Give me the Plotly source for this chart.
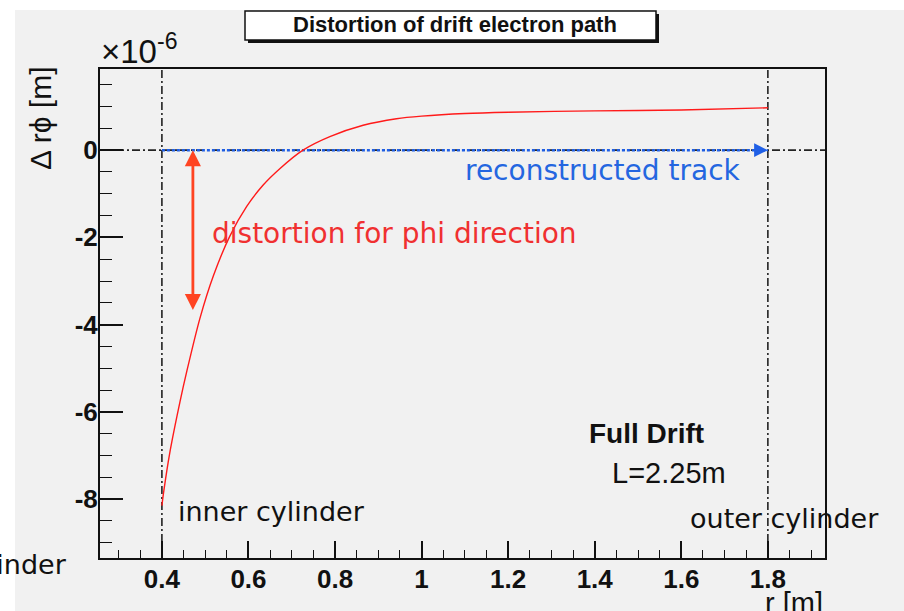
import plotly.graph_objects as go

# Azimuthal displacement of a drifting electron vs. radius (units of 1e-6 m)
r_m = [0.400, 0.4046, 0.418, 0.442, 0.458, 0.488, 0.519, 0.557, 0.596, 0.634,
       0.673, 0.726, 0.788, 0.865, 0.942, 1.00, 1.10, 1.20, 1.40, 1.60, 1.80]
d_rphi = [-8.15, -7.80, -6.95, -5.76, -5.05, -3.85, -2.88, -1.97, -1.29, -0.80,
          -0.42, 0.00, 0.31, 0.57, 0.72, 0.78, 0.84, 0.87, 0.90, 0.92, 0.97]

# Reconstructed (straight) track
track_r = [0.4, 1.8]
track_d = [0.0, 0.0]

# Chamber boundaries
inner_r = 0.4
outer_r = 1.8

# Size of the distortion indicated by the double arrow
arrow_r = 0.4716
arrow_span = [0.0, -3.7]

x_ticks = [0.4, 0.6, 0.8, 1.0, 1.2, 1.4, 1.6, 1.8]
x_ticklabels = ["0.4", "0.6", "0.8", "1", "1.2", "1.4", "1.6", "1.8"]
y_ticks = [0, -2, -4, -6, -8]
y_ticklabels = ["0", "-2", "-4", "-6", "-8"]

W, H = 904, 611
ML, MR, MT, MB = 100, 79, 69, 53
PW, PH = W - ML - MR, H - MT - MB

CANVAS = "#f1f1f1"
RED = "#ff1a1a"
ARROW_RED = "#ff4422"
BLUE = "#1f5fe6"
TEXT_RED = "#f03030"
TEXT_BLUE = "#2466e0"
SANS = "Liberation Sans, Arial, sans-serif"
WIDE = "DejaVu Sans, sans-serif"


def px_x(px):
    return (px - ML) / PW


def px_y(py):
    return (H - MB - py) / PH


fig = go.Figure()

# Reconstructed track (blue dashed) and the distortion curve
fig.add_trace(go.Scatter(x=track_r, y=track_d, mode="lines",
                         line=dict(color=BLUE, width=2.5, dash="3px,2px"),
                         hoverinfo="skip", showlegend=False))
fig.add_trace(go.Scatter(x=r_m, y=d_rphi, mode="lines",
                         line=dict(color=RED, width=1.4, shape="spline", smoothing=0.8),
                         showlegend=False))

shapes = [
    # canvas background (leaves a thin white border top/left)
    dict(type="rect", xref="paper", yref="paper", layer="below",
         x0=px_x(15), x1=px_x(W + 5), y0=px_y(10), y1=px_y(H + 5),
         fillcolor=CANVAS, line=dict(width=0)),
    # title box shadow and box
    dict(type="rect", xref="paper", yref="paper",
         x0=px_x(248), x1=px_x(659), y0=px_y(14), y1=px_y(43),
         fillcolor="#111111", line=dict(width=0)),
    dict(type="rect", xref="paper", yref="paper",
         x0=px_x(245), x1=px_x(656), y0=px_y(11), y1=px_y(40),
         fillcolor="white", line=dict(color="#111111", width=1.5)),
    # boundary markers
    dict(type="line", xref="x", yref="paper", x0=inner_r, x1=inner_r, y0=0, y1=1,
         line=dict(color="#222222", width=1.6, dash="8px,3px,2px,3px"), layer="below"),
    dict(type="line", xref="x", yref="paper", x0=outer_r, x1=outer_r, y0=0, y1=1,
         line=dict(color="#222222", width=1.6, dash="8px,3px,2px,3px"), layer="below"),
    dict(type="line", xref="paper", yref="y", x0=0, x1=1, y0=track_d[0], y1=track_d[0],
         line=dict(color="#222222", width=1.6, dash="8px,3px,2px,3px"), layer="below"),
]

annotations = [
    dict(text="<b>Distortion of drift electron path</b>", xref="paper", yref="paper",
         x=px_x(455), y=px_y(25), showarrow=False, xanchor="center", yanchor="middle",
         font=dict(family=SANS, size=22, color="#111111")),
    dict(text="×10<sup>-6</sup>", xref="paper", yref="paper",
         x=px_x(99), y=px_y(72), showarrow=False, xanchor="left", yanchor="bottom",
         font=dict(family=SANS, size=33, color="#111111")),
    dict(text="Δ rϕ [m]", xref="paper", yref="paper", textangle=-90,
         x=px_x(40), y=px_y(118), showarrow=False, xanchor="center", yanchor="middle",
         font=dict(family=SANS, size=30, color="#111111")),
    dict(text="r [m]", xref="paper", yref="paper",
         x=1.0, y=px_y(603), showarrow=False, xanchor="right", yanchor="middle",
         font=dict(family=SANS, size=29, color="#111111")),
    # double arrow showing the distortion
    dict(x=arrow_r, y=arrow_span[0], ax=arrow_r, ay=arrow_span[1],
         xref="x", yref="y", axref="x", ayref="y", text="", showarrow=True,
         arrowside="end+start", arrowhead=2, startarrowhead=2,
         arrowsize=1.15, startarrowsize=1.15, arrowwidth=2.8, arrowcolor=ARROW_RED),
    # arrowhead at the end of the reconstructed track
    dict(x=track_r[1], y=track_d[1], ax=track_r[1] - 0.03, ay=track_d[1],
         xref="x", yref="y", axref="x", ayref="y", text="", showarrow=True,
         arrowhead=2, arrowsize=1.25, arrowwidth=2.2, arrowcolor=BLUE),
    dict(text="distortion for phi direction", x=0.511, y=-1.9, xref="x", yref="y",
         showarrow=False, xanchor="left", yanchor="middle",
         font=dict(family=WIDE, size=28, color=TEXT_RED)),
    dict(text="reconstructed track", x=1.095, y=-0.46, xref="x", yref="y",
         showarrow=False, xanchor="left", yanchor="middle",
         font=dict(family=WIDE, size=28, color=TEXT_BLUE)),
    dict(text="<b>Full Drift</b>", x=1.382, y=-6.49, xref="x", yref="y",
         showarrow=False, xanchor="left", yanchor="middle",
         font=dict(family=SANS, size=28, color="#111111")),
    dict(text="L=2.25m", x=1.435, y=-7.39, xref="x", yref="y",
         showarrow=False, xanchor="left", yanchor="middle",
         font=dict(family=SANS, size=29, color="#111111")),
    dict(text="inner cylinder", x=0.432, y=-8.28, xref="x", yref="y",
         showarrow=False, xanchor="left", yanchor="middle",
         font=dict(family=WIDE, size=27, color="#111111")),
    dict(text="outer cylinder", x=1.615, y=-8.45, xref="x", yref="y",
         showarrow=False, xanchor="left", yanchor="middle",
         font=dict(family=WIDE, size=27, color="#111111")),
    dict(text="inner cylinder", xref="paper", yref="paper",
         x=px_x(69), y=px_y(564), showarrow=False, xanchor="right", yanchor="middle",
         font=dict(family=WIDE, size=27, color="#111111")),
]

axis_common = dict(showline=True, linecolor="#111111", linewidth=2, mirror=True,
                   showgrid=False, zeroline=False, ticks="inside",
                   tickcolor="#111111", tickwidth=1.6, tickmode="array",
                   tickfont=dict(family=SANS, size=26, color="#111111", weight="bold"))

fig.update_layout(
    width=W, height=611,
    margin=dict(l=ML, r=MR, t=MT, b=MB, pad=0),
    paper_bgcolor="white", plot_bgcolor=CANVAS,
    shapes=shapes, annotations=annotations,
    xaxis=dict(axis_common, range=[0.257, 1.932], tickvals=x_ticks,
               ticktext=x_ticklabels, ticklen=17, ticklabelstandoff=-3,
               minor=dict(tickmode="linear", tick0=0, dtick=0.05, ticklen=8,
                          ticks="inside", tickcolor="#111111", tickwidth=1.4)),
    yaxis=dict(axis_common, range=[-9.35, 1.86], tickvals=y_ticks,
               ticktext=y_ticklabels, ticklen=23, ticklabelstandoff=-5,
               minor=dict(tickmode="linear", tick0=0, dtick=0.5, ticklen=12,
                          ticks="inside", tickcolor="#111111", tickwidth=1.4)),
)

fig.write_html("out.html")
